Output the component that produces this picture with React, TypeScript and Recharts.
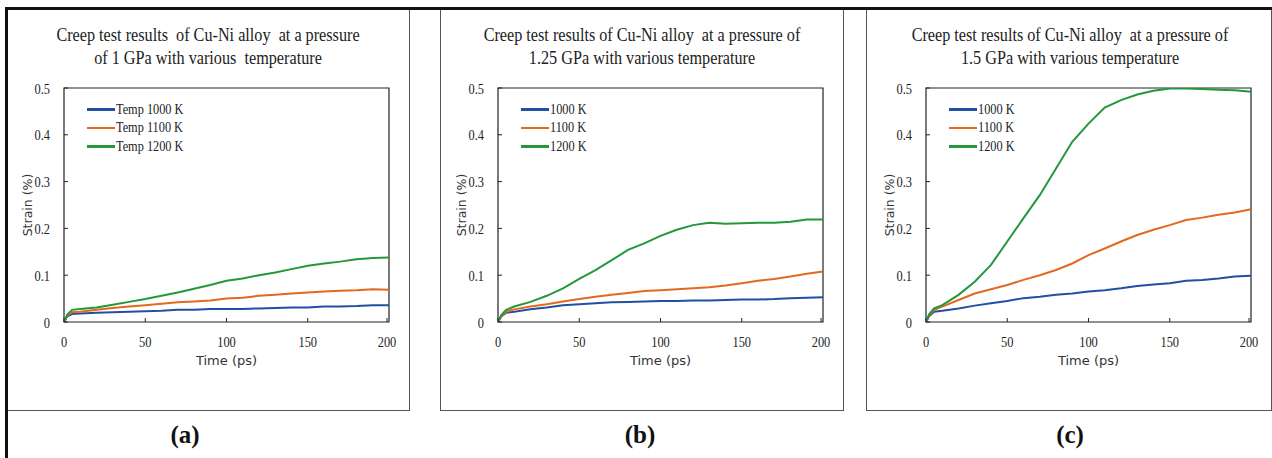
import { LineChart, Line, XAxis, YAxis, Legend, ReferenceArea } from "recharts";

// time axis (ps)
const TIME = [0, 2, 5, 10, 20, 30, 40, 50, 60, 70, 80, 90, 100, 110, 120, 130, 140, 150, 160, 170, 180, 190, 200];
const X_TICKS = [0, 50, 100, 150, 200];
const Y_TICKS = [0, 0.1, 0.2, 0.3, 0.4, 0.5];

// (a) 1 GPa
const A_1000 = [0, 0.012, 0.017, 0.018, 0.02, 0.021, 0.022, 0.023, 0.024, 0.026, 0.026, 0.028, 0.028, 0.028, 0.029, 0.03, 0.031, 0.031, 0.033, 0.033, 0.034, 0.036, 0.036];
const A_1100 = [0, 0.014, 0.021, 0.022, 0.026, 0.03, 0.033, 0.036, 0.039, 0.042, 0.044, 0.046, 0.05, 0.052, 0.056, 0.058, 0.061, 0.063, 0.065, 0.067, 0.068, 0.07, 0.069];
const A_1200 = [0, 0.016, 0.026, 0.028, 0.031, 0.037, 0.043, 0.049, 0.056, 0.063, 0.071, 0.079, 0.088, 0.093, 0.1, 0.106, 0.113, 0.12, 0.125, 0.129, 0.134, 0.137, 0.138];

// (b) 1.25 GPa
const B_1000 = [0, 0.012, 0.02, 0.022, 0.027, 0.031, 0.036, 0.038, 0.04, 0.042, 0.043, 0.044, 0.045, 0.045, 0.046, 0.046, 0.047, 0.048, 0.048, 0.049, 0.051, 0.052, 0.053];
const B_1100 = [0, 0.013, 0.022, 0.027, 0.033, 0.038, 0.044, 0.049, 0.054, 0.058, 0.062, 0.066, 0.068, 0.07, 0.072, 0.074, 0.078, 0.083, 0.088, 0.092, 0.097, 0.103, 0.108];
const B_1200 = [0, 0.015, 0.026, 0.033, 0.043, 0.056, 0.072, 0.092, 0.111, 0.132, 0.154, 0.168, 0.184, 0.197, 0.207, 0.212, 0.21, 0.211, 0.212, 0.212, 0.214, 0.219, 0.219];

// (c) 1.5 GPa
const C_1000 = [0, 0.013, 0.022, 0.024, 0.029, 0.035, 0.04, 0.045, 0.051, 0.054, 0.058, 0.061, 0.065, 0.068, 0.072, 0.077, 0.08, 0.083, 0.088, 0.09, 0.093, 0.097, 0.099];
const C_1100 = [0, 0.015, 0.026, 0.033, 0.047, 0.061, 0.07, 0.079, 0.09, 0.1, 0.111, 0.125, 0.143, 0.157, 0.172, 0.186, 0.197, 0.207, 0.218, 0.223, 0.229, 0.234, 0.241];
const C_1200 = [0, 0.017, 0.029, 0.036, 0.058, 0.086, 0.122, 0.172, 0.222, 0.271, 0.328, 0.385, 0.424, 0.458, 0.474, 0.486, 0.494, 0.499, 0.499, 0.498, 0.496, 0.495, 0.492];

const COLORS = ["#2150a3", "#e2691f", "#22983a"];
const SERIF = "'Liberation Serif', 'Times New Roman', serif";
const SANS = "'DejaVu Sans', Verdana, sans-serif";

const X_MARGIN = 10;
const Y_MARGIN = 10;

const rows = (s1: number[], s2: number[], s3: number[]) =>
  TIME.map((t, i) => ({ t, s1: s1[i], s2: s2[i], s3: s3[i] }));

const PANELS = [
  {
    title: ["Creep test results  of Cu-Ni alloy  at a pressure", "of 1 GPa with various  temperature"],
    titleX: 208,
    letter: "(a)",
    letterX: 185,
    plotLeft: 64,
    names: ["Temp 1000 K", "Temp 1100 K", "Temp 1200 K"],
    data: rows(A_1000, A_1100, A_1200),
  },
  {
    title: ["Creep test results of Cu-Ni alloy  at a pressure of", "1.25 GPa with various temperature"],
    titleX: 642,
    letter: "(b)",
    letterX: 640,
    plotLeft: 498,
    names: ["1000 K", "1100 K", "1200 K"],
    data: rows(B_1000, B_1100, B_1200),
  },
  {
    title: ["Creep test results of Cu-Ni alloy  at a pressure of", "1.5 GPa with various temperature"],
    titleX: 1070,
    letter: "(c)",
    letterX: 1070,
    plotLeft: 926,
    names: ["1000 K", "1100 K", "1200 K"],
    data: rows(C_1000, C_1100, C_1200),
  },
];

const XTick = (props: any) => {
  const { x, y, payload } = props;
  const ay = y - X_MARGIN;
  return (
    <g>
      <line x1={x} x2={x} y1={ay} y2={ay - 4} stroke="#222" strokeWidth={1} />
      <text
        transform={`translate(${x} ${ay + 19}) scale(0.8 1)`}
        textAnchor="middle"
        dominantBaseline="central"
        fontFamily={SERIF}
        fontSize={15.5}
        fill="#222"
      >
        {String(payload.value)}
      </text>
    </g>
  );
};

const YTick = (props: any) => {
  const { x, y, payload } = props;
  const ax = x + Y_MARGIN;
  return (
    <g>
      <line x1={ax} x2={ax + 4} y1={y} y2={y} stroke="#222" strokeWidth={1} />
      <text
        transform={`translate(${ax - 14} ${y}) scale(0.8 1)`}
        textAnchor="end"
        dominantBaseline="central"
        fontFamily={SERIF}
        fontSize={15.5}
        fill="#222"
      >
        {String(payload.value)}
      </text>
    </g>
  );
};

const LegendBox = (props: any) => {
  const { payload } = props;
  return (
    <div>
      {payload.map((p: any) => (
        <div key={p.value} style={{ display: "flex", alignItems: "center", height: 18.5 }}>
          <div style={{ width: 28, height: 2.5, background: p.color }} />
          <span
            style={{
              fontFamily: SERIF,
              fontSize: 15,
              color: "#222",
              marginLeft: 1,
              display: "inline-block",
              transform: "scaleX(0.82)",
              transformOrigin: "left center",
              whiteSpace: "nowrap",
            }}
          >
            {p.value}
          </span>
        </div>
      ))}
    </div>
  );
};

function Panel({ panel }: { panel: (typeof PANELS)[number] }) {
  return (
    <div style={{ position: "absolute", left: panel.plotLeft - 64, top: 0 }}>
      <LineChart
        width={399}
        height={382}
        data={panel.data}
        margin={{ top: 88, right: 10, left: 0, bottom: 0 }}
      >
        <XAxis
          dataKey="t"
          type="number"
          domain={[0, 200]}
          ticks={X_TICKS}
          height={60}
          tickSize={0}
          tickMargin={X_MARGIN}
          tickLine={false}
          axisLine={false}
          tick={<XTick />}
          label={{
            content: (p: any) => {
              const vb = p.viewBox;
              return (
                <text
                  x={vb.x + vb.width / 2}
                  y={vb.y + 38}
                  textAnchor="middle"
                  dominantBaseline="central"
                  fontFamily={SANS}
                  fontSize={13}
                  fill="#333"
                >
                  Time (ps)
                </text>
              );
            },
          }}
        />
        <YAxis
          type="number"
          domain={[0, 0.5]}
          ticks={Y_TICKS}
          width={64}
          tickSize={0}
          tickMargin={Y_MARGIN}
          tickLine={false}
          axisLine={false}
          tick={<YTick />}
          allowDataOverflow
          label={{
            content: (p: any) => {
              const vb = p.viewBox;
              const cx = vb.x + vb.width - 37;
              const cy = vb.y + vb.height / 2;
              return (
                <text
                  x={cx}
                  y={cy}
                  transform={`rotate(-90 ${cx} ${cy})`}
                  textAnchor="middle"
                  dominantBaseline="central"
                  fontFamily={SANS}
                  fontSize={12.5}
                  fill="#333"
                >
                  Strain (%)
                </text>
              );
            },
          }}
        />
        <ReferenceArea x1={0} x2={200} y1={0} y2={0.5} fill="none" stroke="#222" strokeWidth={1.2} ifOverflow="visible" />
        <Legend
          layout="vertical"
          verticalAlign="middle"
          align="center"
          wrapperStyle={{ left: 87, top: 100, width: 140 }}
          content={<LegendBox />}
        />
        {["s1", "s2", "s3"].map((k, i) => (
          <Line
            key={k}
            dataKey={k}
            name={panel.names[i]}
            type="linear"
            stroke={COLORS[i]}
            strokeWidth={2}
            dot={false}
            isAnimationActive={false}
          />
        ))}
      </LineChart>
    </div>
  );
}

export default function App() {
  const frame = { position: "absolute" as const, border: "1.5px solid #555", boxSizing: "border-box" as const };
  return (
    <div
      style={{
        position: "absolute",
        left: 0,
        top: 0,
        width: 1272,
        height: 458,
        background: "#fff",
        overflow: "hidden",
      }}
    >
      {/* panel frames */}
      <div style={{ ...frame, left: 6, top: 7, width: 404, height: 404 }} />
      <div style={{ ...frame, left: 440, top: 7, width: 404, height: 404 }} />
      <div style={{ ...frame, left: 866, top: 7, width: 406, height: 404 }} />
      {/* heavy outer edges */}
      <div style={{ position: "absolute", left: 5, top: 7, width: 1267, height: 2.5, background: "#111" }} />
      <div style={{ position: "absolute", left: 5, top: 7, width: 3, height: 451, background: "#111" }} />

      {PANELS.map((p) => (
        <div key={p.letter}>
          {p.title.map((line, i) => (
            <div
              key={i}
              style={{
                position: "absolute",
                left: p.titleX - 250,
                width: 500,
                top: 35 + i * 23 - 12,
                height: 24,
                lineHeight: "24px",
                textAlign: "center",
                fontFamily: SERIF,
                fontSize: 18,
                color: "#222",
                whiteSpace: "pre",
                transform: "scaleX(0.9)",
              }}
            >
              {line}
            </div>
          ))}
          <Panel panel={p} />
          <div
            style={{
              position: "absolute",
              left: p.letterX - 50,
              width: 100,
              top: 420,
              height: 30,
              lineHeight: "30px",
              textAlign: "center",
              fontFamily: SERIF,
              fontWeight: "bold",
              fontSize: 25,
              color: "#111",
            }}
          >
            {p.letter}
          </div>
        </div>
      ))}
    </div>
  );
}
